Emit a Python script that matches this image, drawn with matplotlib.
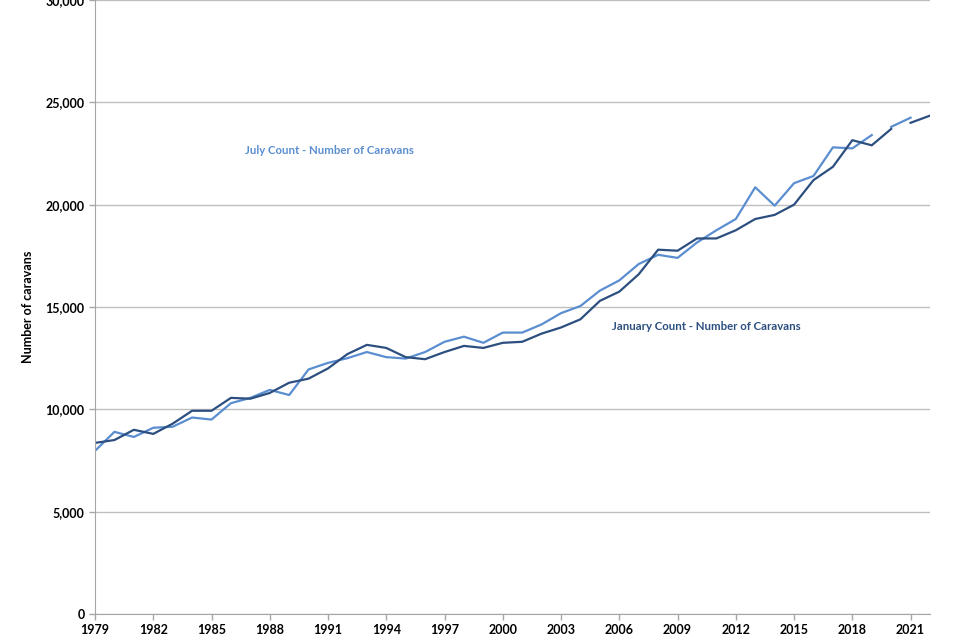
import numpy as np
import matplotlib.pyplot as plt
from matplotlib.ticker import FuncFormatter

plt.rcParams['font.family'] = ['Lato', 'DejaVu Sans']

# January count, 1979-2020, then 2021-2022 after the break
jan_years_a = list(range(1979, 2021))
jan_a = [8360, 8500, 9000, 8800, 9300, 9930, 9930, 10560, 10520, 10800,
         11300, 11500, 12000, 12700, 13150, 13000, 12550, 12450, 12800, 13100,
         13000, 13250, 13300, 13700, 14000, 14400, 15300, 15750, 16600, 17800,
         17750, 18350, 18350, 18750, 19300, 19500, 20000, 21200, 21850, 23150,
         22900, 23700]
jan_years_b = [2021, 2022]
jan_b = [24000, 24350]

# July count, 1979-2019, then 2020-2021 after the break
jul_years_a = list(range(1979, 2020))
jul_a = [7970, 8900, 8650, 9100, 9150, 9600, 9500, 10300, 10560, 10950,
         10700, 11950, 12270, 12500, 12800, 12550, 12480, 12800, 13300, 13550,
         13250, 13750, 13750, 14150, 14700, 15050, 15800, 16300, 17100, 17550,
         17400, 18150, 18750, 19300, 20850, 19950, 21050, 21400, 22800, 22750,
         23400]
jul_years_b = [2020, 2021]
jul_b = [23800, 24250]

dark = '#2C4F80'
light = '#5B8ED0'

fig = plt.figure(figsize=(9.6, 6.4), dpi=100)
ax = fig.add_axes([95/960, 26/640, 835/960, 614/640])

ax.plot(jul_years_a, jul_a, color=light, lw=1.6)
ax.plot(jul_years_b, jul_b, color=light, lw=1.6)
ax.plot(jan_years_a, jan_a, color=dark, lw=1.6)
ax.plot(jan_years_b, jan_b, color=dark, lw=1.6)

ax.set_xlim(1979, 2022)
ax.set_ylim(0, 30000)
ax.set_xticks(range(1979, 2022, 3))
ax.set_yticks(range(0, 30001, 5000))
ax.yaxis.set_major_formatter(FuncFormatter(lambda v, p: f'{int(v):,}'))
ax.grid(axis='y', color='#BFBFBF', lw=1)
ax.set_axisbelow(True)
for s in ['top', 'right']:
    ax.spines[s].set_visible(False)
for s in ['left', 'bottom']:
    ax.spines[s].set_color('#A6A6A6')
ax.tick_params(colors='#A6A6A6', length=4, width=1, labelcolor='black',
               labelsize=9)
for lab in ax.get_xticklabels() + ax.get_yticklabels():
    lab.set_fontweight('bold')

ax.set_ylabel('Number of caravans', fontsize=9, fontweight='bold', labelpad=8)

ax.text(1986.7, 22650, 'July Count - Number of Caravans', color=light,
        fontsize=8.2, fontweight='bold', va='center')
ax.text(2005.6, 14050, 'January Count - Number of Caravans', color=dark,
        fontsize=8.2, fontweight='bold', va='center')

fig.savefig('out.png', dpi=100)
